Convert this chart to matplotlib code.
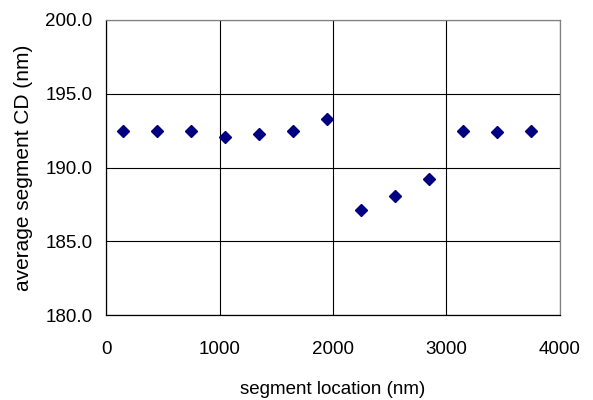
import numpy as np
import matplotlib
matplotlib.use('Agg')
import matplotlib.pyplot as plt

plt.rcParams['font.family'] = ['Liberation Sans', 'DejaVu Sans']

#----------------------------------Data-----------------------------------------
segment_location = [150, 450, 750, 1050, 1350, 1650, 1950,
                    2250, 2550, 2850, 3150, 3450, 3750]
average_cd = [192.5, 192.5, 192.5, 192.1, 192.3, 192.5, 193.3,
              187.1, 188.1, 189.2, 192.5, 192.4, 192.5]
x_ticks = [0, 1000, 2000, 3000, 4000]
y_ticks = [180, 185, 190, 195, 200]

#----------------------------------Plot-----------------------------------------
fig = plt.figure(figsize=(5.93, 4.0), dpi=100)
ax = fig.add_axes([0.179, 0.2125, 0.765, 0.7375])

ax.plot(segment_location, average_cd, linestyle='none', marker='D',
        markersize=6.2, color='#000080', zorder=3)

ax.set_xlim(0, 4000)
ax.set_ylim(180, 200)
ax.set_xticks(x_ticks)
ax.set_yticks(y_ticks)
ax.set_yticklabels([f'{v:.1f}' for v in y_ticks])
ax.tick_params(axis='both', length=0, labelsize=13.5)
ax.tick_params(axis='x', pad=19)
ax.tick_params(axis='y', pad=10)

ax.grid(True, color='black', linewidth=0.8)
ax.set_axisbelow(True)
for side in ['left', 'bottom']:
    ax.spines[side].set_color('black')
    ax.spines[side].set_linewidth(0.9)
for side in ['top', 'right']:
    ax.spines[side].set_color('#808080')
    ax.spines[side].set_linewidth(0.9)

ax.set_xlabel('segment location (nm)', fontsize=13.5, va='center')
ax.xaxis.set_label_coords(0.5, -0.254)
ax.set_ylabel('average segment CD (nm)', fontsize=15, va='center')
ax.yaxis.set_label_coords(-0.183, 0.5)

plt.savefig('out.png', dpi=100)
